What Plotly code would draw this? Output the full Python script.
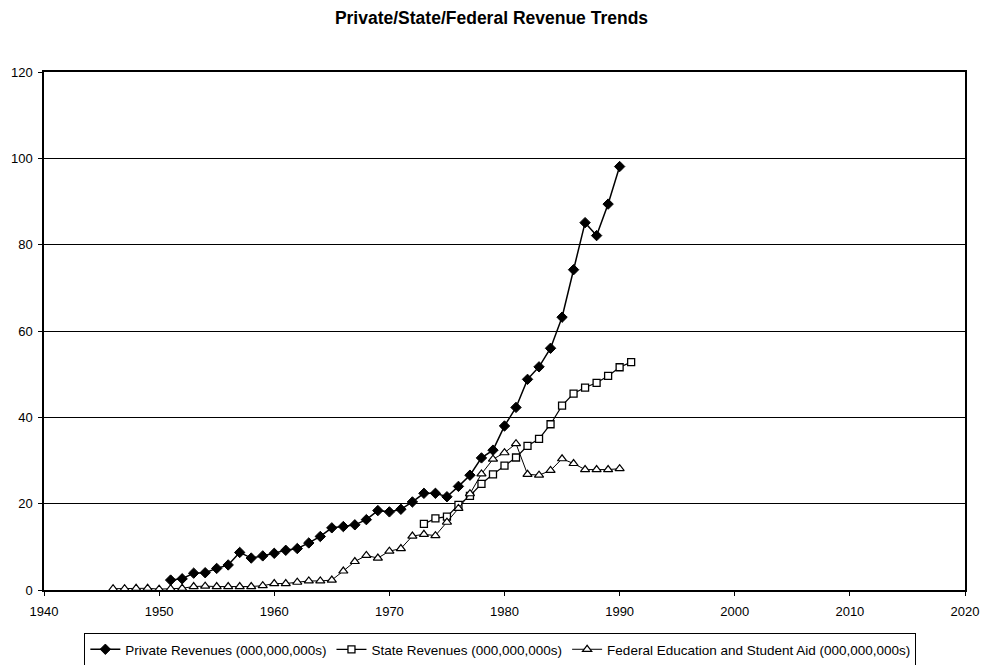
import plotly.graph_objects as go

private_years = list(range(1951, 1991))
private_vals = [2.3, 2.6, 3.9, 4.0, 5.0, 5.8, 8.7, 7.4, 7.9, 8.5,
                9.2, 9.6, 10.9, 12.4, 14.4, 14.7, 15.1, 16.3, 18.4, 18.1,
                18.7, 20.4, 22.4, 22.4, 21.6, 24.0, 26.6, 30.6, 32.4, 38.0,
                42.3, 48.8, 51.7, 56.0, 63.2, 74.2, 85.1, 82.1, 89.4, 98.1]

state_years = list(range(1973, 1992))
state_vals = [15.3, 16.6, 17.0, 19.7, 21.8, 24.6, 26.8, 28.8, 30.7, 33.4,
              35.0, 38.4, 42.7, 45.5, 46.9, 48.0, 49.6, 51.6, 52.8]

federal_years = list(range(1946, 1991))
federal_vals = [0.3, 0.3, 0.4, 0.4, 0.2, 0.3, 0.4, 0.8, 0.9, 0.8,
                0.8, 0.8, 0.8, 1.0, 1.5, 1.5, 1.8, 2.1, 2.1, 2.3,
                4.4, 6.6, 8.0, 7.4, 9.0, 9.6, 12.5, 12.9, 12.6, 15.7,
                18.9, 22.3, 26.9, 30.3, 31.8, 33.9, 26.8, 26.6, 27.7, 30.4,
                29.3, 27.9, 27.9, 27.9, 28.1]

names = ["Private Revenues (000,000,000s)",
         "State Revenues (000,000,000s)",
         "Federal Education and Student Aid (000,000,000s)"]

x_ticks = [1940, 1950, 1960, 1970, 1980, 1990, 2000, 2010, 2020]
y_ticks = [0, 20, 40, 60, 80, 100, 120]

font = "Liberation Sans, Arial, sans-serif"

fig = go.Figure()
fig.add_trace(go.Scatter(
    x=private_years, y=private_vals, name=names[0], mode="lines+markers",
    line=dict(color="black", width=1.5),
    marker=dict(symbol="diamond", size=8, color="black",
                line=dict(color="black", width=1))))
fig.add_trace(go.Scatter(
    x=state_years, y=state_vals, name=names[1], mode="lines+markers",
    line=dict(color="black", width=1.2),
    marker=dict(symbol="square", size=7, color="white",
                line=dict(color="black", width=1.3))))
fig.add_trace(go.Scatter(
    x=federal_years, y=federal_vals, name=names[2], mode="lines+markers",
    line=dict(color="black", width=1),
    marker=dict(symbol="triangle-up", size=8, color="white",
                line=dict(color="black", width=1.2))))

fig.update_layout(
    width=983, height=665,
    margin=dict(l=44, r=18, t=72, b=75),
    paper_bgcolor="white", plot_bgcolor="white",
    font=dict(family=font, size=12, color="black"),
    title=dict(text="<b>Private/State/Federal Revenue Trends</b>",
               x=0.5, xref="container", xanchor="center",
               y=0.973, yref="container", yanchor="middle",
               font=dict(family=font, size=17.5, color="black")),
    showlegend=True,
    legend=dict(orientation="h", x=0.509, xref="container", xanchor="center",
                y=1 - 633 / 665, yref="container", yanchor="top",
                bordercolor="black", borderwidth=1,
                bgcolor="white", font=dict(family=font, size=13.5),
                tracegroupgap=0),
    xaxis=dict(range=[1940, 2020], tickvals=x_ticks, ticktext=[str(v) for v in x_ticks],
               showgrid=False, zeroline=False, showline=True, linecolor="black",
               linewidth=1.5, mirror=True, ticks="outside", ticklen=4,
               tickcolor="black", tickfont=dict(size=13), ticklabelstandoff=5,
               automargin=False),
    yaxis=dict(range=[0, 120], tickvals=y_ticks, ticktext=[str(v) for v in y_ticks],
               showgrid=True, gridcolor="black", gridwidth=1, zeroline=False,
               showline=True, linecolor="black", linewidth=1.5, mirror=True,
               ticks="outside", ticklen=4, tickcolor="black",
               tickfont=dict(size=13), ticklabelstandoff=3, automargin=False),
)

fig.write_html("out.html")
